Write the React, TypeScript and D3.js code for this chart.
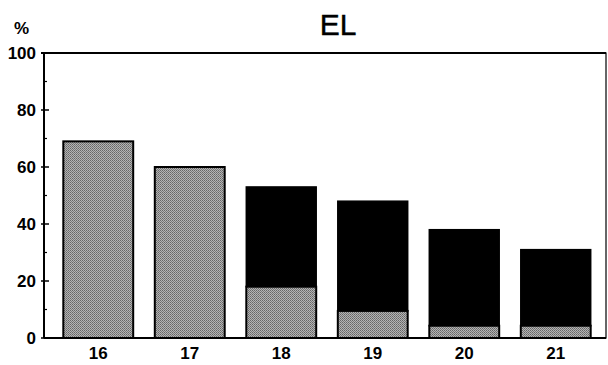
import React from "react";
import * as d3 from "d3";

const categories = ["16", "17", "18", "19", "20", "21"];
const grayValues = [69, 60, 18, 9.5, 4.3, 4.3];
const totalValues = [69, 60, 53, 48, 38, 31];
const yTicks = [0, 20, 40, 60, 80, 100];
const yMinorTicks = [10, 30, 50, 70, 90];
const title = "EL";
const unitLabel = "%";

const W = 608;
const H = 365;
const left = 44;
const right = 606;
const top = 53;
const bottom = 338;

export default function App() {
  const x = d3
    .scaleBand<string>()
    .domain(categories)
    .range([45, 609])
    .paddingInner(0.236)
    .paddingOuter(0.2);
  const y = d3.scaleLinear().domain([0, 100]).range([bottom, top]);
  const font = "'Liberation Sans', Arial, Helvetica, sans-serif";

  return (
    <svg
      width={W}
      height={H}
      style={{ position: "absolute", left: 0, top: 0, background: "#fff" }}
    >
      <defs>
        <pattern id="dither" width="2" height="2" patternUnits="userSpaceOnUse">
          <rect width="2" height="2" fill="#b4b4b4" />
          <rect width="1" height="1" fill="#666" />
          <rect x="1" y="1" width="1" height="1" fill="#7a7a7a" />
        </pattern>
      </defs>
      <text
        x={338}
        y={35}
        textAnchor="middle"
        fontFamily={font}
        fontSize={30}
        fill="#000"
        stroke="#000"
        strokeWidth={0.4}
      >
        {title}
      </text>
      <text x={14} y={34} fontFamily={font} fontSize={17} fontWeight="bold">
        {unitLabel}
      </text>

      {categories.map((c, i) => {
        const bx = x(c)!;
        const bw = x.bandwidth();
        return (
          <g key={c}>
            {totalValues[i] > grayValues[i] && (
              <rect
                x={bx}
                y={y(totalValues[i])}
                width={bw}
                height={y(grayValues[i]) - y(totalValues[i])}
                fill="#000"
                stroke="#000"
                strokeWidth={1.5}
              />
            )}
            <rect
              x={bx}
              y={y(grayValues[i])}
              width={bw}
              height={bottom - y(grayValues[i])}
              fill="url(#dither)"
              stroke="#000"
              strokeWidth={2}
            />
          </g>
        );
      })}

      {/* frame */}
      <rect
        x={left}
        y={top}
        width={right - left}
        height={bottom - top}
        fill="none"
        stroke="#000"
        strokeWidth={1.2}
      />
      <line x1={left} x2={right} y1={bottom} y2={bottom} stroke="#000" strokeWidth={2.2} />
      <line x1={left} x2={left} y1={top} y2={bottom} stroke="#000" strokeWidth={2} />
      <line x1={left - 3} x2={right} y1={top} y2={top} stroke="#000" strokeWidth={2} />

      {yTicks.map((t) => (
        <g key={t}>
          <line x1={left - 3} x2={left + 5} y1={y(t)} y2={y(t)} stroke="#000" strokeWidth={1.5} />
          <text
            x={36}
            y={y(t) + 6}
            textAnchor="end"
            fontFamily={font}
            fontSize={17}
            fontWeight="bold"
          >
            {t}
          </text>
        </g>
      ))}
      {yMinorTicks.map((t) => (
        <line key={t} x1={left} x2={left + 3} y1={y(t)} y2={y(t)} stroke="#000" strokeWidth={1.2} />
      ))}
      {categories.map((c) => (
        <text
          key={c}
          x={x(c)! + x.bandwidth() / 2}
          y={359}
          textAnchor="middle"
          fontFamily={font}
          fontSize={17}
          fontWeight="bold"
        >
          {c}
        </text>
      ))}
    </svg>
  );
}
